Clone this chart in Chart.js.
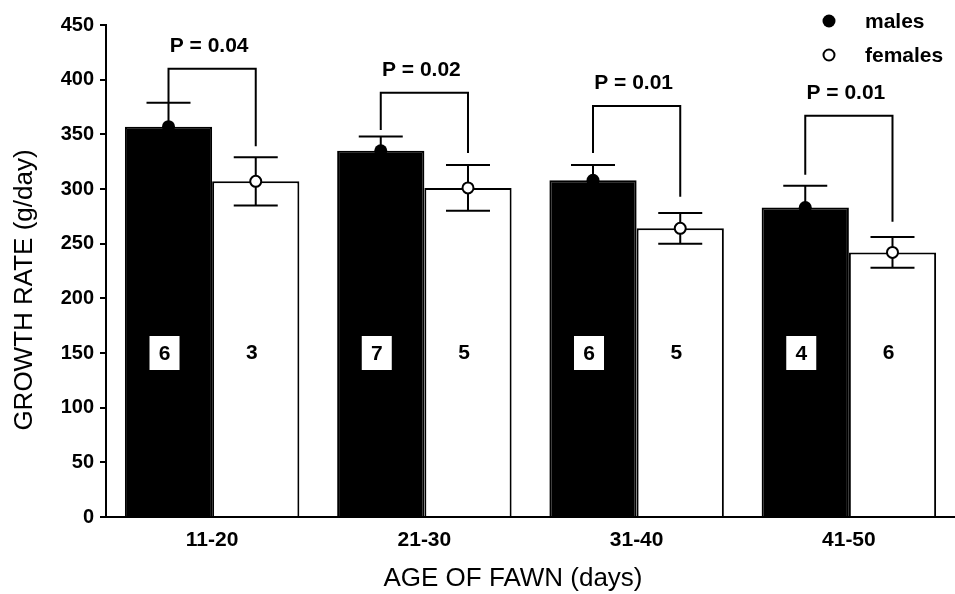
<!DOCTYPE html>
<html>
<head>
<meta charset="utf-8">
<script src="https://cdn.jsdelivr.net/npm/chart.js@4.4.1/dist/chart.umd.min.js"></script>
<style>
  html, body { margin: 0; padding: 0; background: #fff; }
  #wrap { width: 955px; height: 594px; }
</style>
</head>
<body>
<div id="wrap"><canvas id="growthChart" width="955" height="594"></canvas></div>
<script>
// values
const ageGroups = ['11-20', '21-30', '31-40', '41-50'];
const maleMeans = [357, 335, 308, 283];
const femaleMeans = [307, 301, 264, 242];
const maleSE = [22, 13, 14, 20];
const femaleSE = [22, 21, 14, 14];
const maleN = [6, 7, 6, 4];
const femaleN = [3, 5, 5, 6];
const pValues = ['P = 0.04', 'P = 0.02', 'P = 0.01', 'P = 0.01'];
// bracket heights (g/day): top, male leg end, female leg end
const bracketTop = [410, 388, 376, 367];
const bracketMale = [379, 354, 333, 313];
const bracketFemale = [339, 333, 293, 270];
const yTicks = [0, 50, 100, 150, 200, 250, 300, 350, 400, 450];

const FONT = '"Liberation Sans", Arial, Helvetica, sans-serif';

const extrasPlugin = {
    id: 'extras',
    afterDatasetsDraw(chart) {
        const ctx = chart.ctx;
        const y = chart.scales.y;
        const males = chart.getDatasetMeta(0).data;
        const females = chart.getDatasetMeta(1).data;
        const cap = 22;

        ctx.save();
        ctx.strokeStyle = '#000';
        ctx.lineWidth = 2;

        for (let i = 0; i < ageGroups.length; i++) {
            const xm = males[i].x;
            const xf = females[i].x;

            // error bars
            [[xm, maleMeans[i], maleSE[i]], [xf, femaleMeans[i], femaleSE[i]]].forEach(([x, m, se]) => {
                const yt = y.getPixelForValue(m + se);
                const yb = y.getPixelForValue(m - se);
                ctx.beginPath();
                ctx.moveTo(x, yt); ctx.lineTo(x, yb);
                ctx.moveTo(x - cap, yt); ctx.lineTo(x + cap, yt);
                ctx.moveTo(x - cap, yb); ctx.lineTo(x + cap, yb);
                ctx.stroke();
            });

            // mean markers
            ctx.beginPath();
            ctx.arc(xm, y.getPixelForValue(maleMeans[i]), 6.5, 0, Math.PI * 2);
            ctx.fillStyle = '#000';
            ctx.fill();
            ctx.beginPath();
            ctx.arc(xf, y.getPixelForValue(femaleMeans[i]), 5.5, 0, Math.PI * 2);
            ctx.fillStyle = '#fff';
            ctx.fill();
            ctx.stroke();

            // significance bracket
            const top = y.getPixelForValue(bracketTop[i]);
            ctx.beginPath();
            ctx.moveTo(xm, y.getPixelForValue(bracketMale[i]));
            ctx.lineTo(xm, top);
            ctx.lineTo(xf, top);
            ctx.lineTo(xf, y.getPixelForValue(bracketFemale[i]));
            ctx.stroke();

            ctx.fillStyle = '#000';
            ctx.font = 'bold 21px ' + FONT;
            ctx.textAlign = 'center';
            ctx.textBaseline = 'middle';
            ctx.fillText(pValues[i], (xm + xf) / 2 - 3, top - 23);

            // sample sizes
            const yn = y.getPixelForValue(150);
            ctx.fillStyle = '#fff';
            ctx.fillRect(xm - 19, yn - 17, 30, 34);
            ctx.fillStyle = '#000';
            ctx.fillText(String(maleN[i]), xm - 4, yn + 1);
            ctx.fillText(String(femaleN[i]), xf - 4, yn);
        }

        // legend
        ctx.font = 'bold 21px ' + FONT;
        ctx.textAlign = 'left';
        ctx.beginPath();
        ctx.arc(829, 21, 6.5, 0, Math.PI * 2);
        ctx.fillStyle = '#000';
        ctx.fill();
        ctx.fillText('males', 865, 22);
        ctx.beginPath();
        ctx.arc(829, 55, 5.5, 0, Math.PI * 2);
        ctx.fillStyle = '#fff';
        ctx.fill();
        ctx.stroke();
        ctx.fillStyle = '#000';
        ctx.fillText('females', 865, 56);

        // axis titles
        ctx.font = '26px ' + FONT;
        ctx.textAlign = 'center';
        ctx.fillText('AGE OF FAWN (days)', 513, 579);
        ctx.translate(25, 290);
        ctx.rotate(-Math.PI / 2);
        ctx.fillText('GROWTH RATE (g/day)', 0, 0);
        ctx.restore();
    }
};

new Chart(document.getElementById('growthChart'), {
    type: 'bar',
    data: {
        labels: ageGroups,
        datasets: [{
            label: 'males',
            data: maleMeans,
            backgroundColor: '#000',
            borderColor: '#000',
            borderWidth: 2
        }, {
            label: 'females',
            data: femaleMeans,
            backgroundColor: '#fff',
            borderColor: '#000',
            borderWidth: 2
        }]
    },
    options: {
        responsive: false,
        animation: false,
        layout: { padding: { left: 10, right: 0, top: 25, bottom: 0 } },
        datasets: {
            bar: { barPercentage: 1, categoryPercentage: 0.822 }
        },
        scales: {
            x: {
                grid: { display: false },
                border: { display: true, color: '#000', width: 2 },
                ticks: {
                    color: '#000',
                    font: { family: FONT, size: 21, weight: 'bold' },
                    padding: 3
                },
                afterFit: (scale) => { scale.height = 77; }
            },
            y: {
                min: 0,
                max: 450,
                afterBuildTicks: (scale) => { scale.ticks = yTicks.map(v => ({ value: v })); },
                grid: {
                    drawOnChartArea: false,
                    drawTicks: true,
                    tickLength: 6,
                    color: '#000',
                    lineWidth: 2
                },
                border: { display: true, color: '#000', width: 2 },
                ticks: {
                    color: '#000',
                    font: { family: FONT, size: 20, weight: 'bold' },
                    padding: 6
                },
                afterFit: (scale) => { scale.width = 96; }
            }
        },
        plugins: {
            legend: { display: false },
            tooltip: { enabled: false }
        }
    },
    plugins: [extrasPlugin]
});
</script>
</body>
</html>
